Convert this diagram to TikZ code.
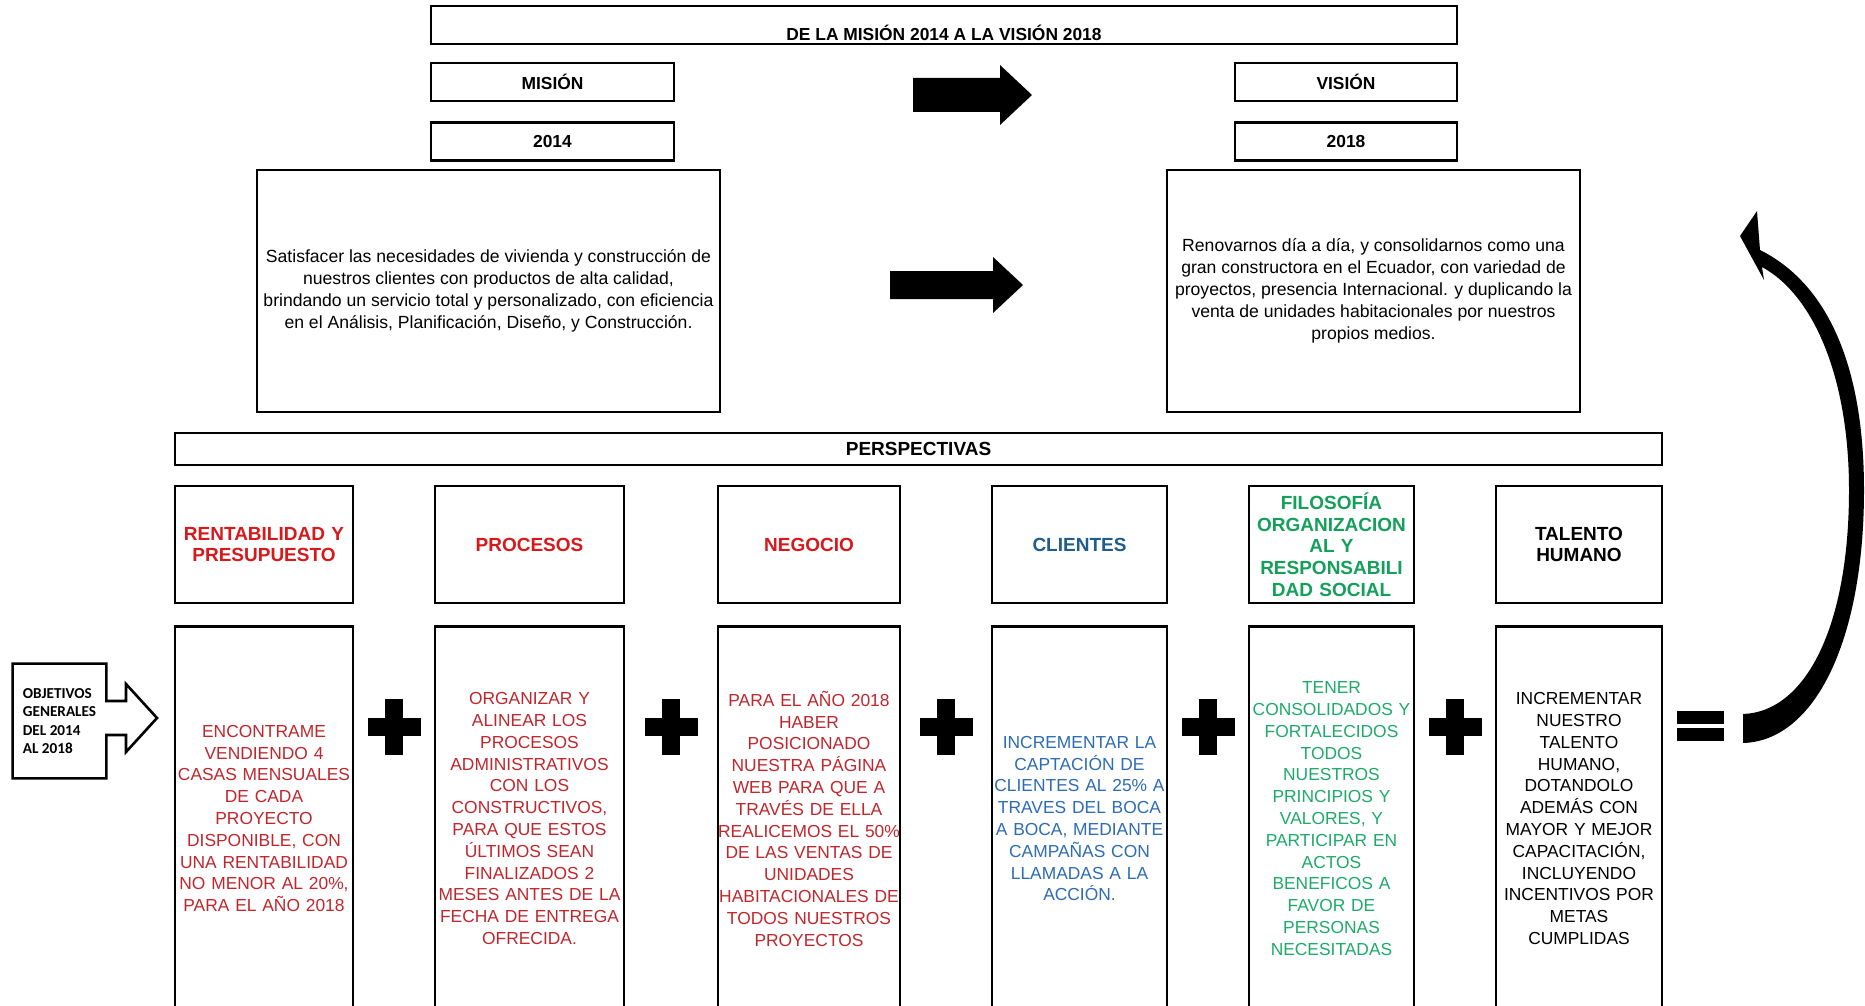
\documentclass[tikz,border=0pt]{standalone}
\usepackage{fontspec}
\setmainfont{Liberation Sans}
\newfontfamily\objfont{Carlito}
\usetikzlibrary{positioning,calc}
\definecolor{rojoCab}{HTML}{D7191C}
\definecolor{rojoTxt}{HTML}{C0272D}
\definecolor{azulCab}{HTML}{1F5E8C}
\definecolor{azulTxt}{HTML}{2E6DB4}
\definecolor{verdeCab}{HTML}{14A05A}
\definecolor{verdeTxt}{HTML}{1FAA6B}
\tikzset{
  caja/.style={draw=black, line width=1.3pt, inner sep=0pt, align=center},
  cajaT/.style={caja, minimum height=19pt, font=\fontsize{8.7}{10}\selectfont\bfseries},
  texto/.style={caja, minimum height=121pt, font=\fontsize{8.8}{11}\selectfont},
  cab/.style={caja, text width=#1, minimum height=58.5pt, font=\fontsize{9.5}{10.9}\selectfont\bfseries},
  cuerpo/.style={caja, text width=#1, minimum height=192pt, font=\fontsize{8.7}{10.9}\selectfont},
}
\begin{document}
\begin{tikzpicture}[x=0.5pt, y=-0.5pt, node distance=10.5pt]
  \useasboundingbox[fill=white] (0,0) rectangle (1865,1006);
  \node[cajaT, minimum width=513pt, text height=17.2pt, text depth=1.8pt] (t) at (944,25) {DE LA MISIÓN 2014 A LA VISIÓN 2018};
  \node[cajaT, minimum width=121.5pt] (m) at (552.5,82) {MISIÓN};
  \node[cajaT, minimum width=121.5pt, below=9.5pt of m] (a1) {2014};
  \node[cajaT, minimum width=111pt] (v) at (1346,82) {VISIÓN};
  \node[cajaT, minimum width=111pt, below=9.5pt of v] (a2) {2018};
  \node[texto, minimum width=231.5pt] (tm) at (488.5,291) {Satisfacer las necesidades de vivienda y construcción de\\nuestros clientes con productos de alta calidad,\\brindando un servicio total y personalizado, con eficiencia\\en el Análisis, Planificación, Diseño, y Construcción.};
  \node[texto, minimum width=206.5pt] (tv) at (1373.5,291) {Renovarnos día a día, y consolidarnos como una\\gran constructora en el Ecuador, con variedad de\\proyectos, presencia Internacional. y duplicando la\\venta de unidades habitacionales por nuestros\\propios medios.};
  \fill (913,78) -- (1000,78) -- (1000,65) -- (1032,95) -- (1000,125) -- (1000,112) -- (913,112) -- cycle;
  \fill (890,271) -- (993,271) -- (993,257) -- (1023,285) -- (993,313) -- (993,299) -- (890,299) -- cycle;
  \node[cajaT, minimum width=743.5pt, minimum height=16pt, font=\fontsize{9.5}{10}\selectfont\bfseries] (p) at (918.5,449) {PERSPECTIVAS};
  \node[cab=89pt, text=rojoCab] (h1) at (264,544.5) {RENTABILIDAD Y\\PRESUPUESTO};
  \node[cab=94.5pt, text=rojoCab] (h2) at (529.5,544.5) {PROCESOS};
  \node[cab=91pt, text=rojoCab] (h3) at (809,544.5) {NEGOCIO};
  \node[cab=87.5pt, text=azulCab] (h4) at (1079.5,544.5) {CLIENTES};
  \node[cab=82.5pt, text=verdeCab] (h5) at (1331.5,544.5) {FILOSOFÍA\\ORGANIZACION\\AL Y\\RESPONSABILI\\DAD SOCIAL};
  \node[cab=83pt] (h6) at (1579,544.5) {TALENTO\\HUMANO};
  \node[cuerpo=89pt, text=rojoTxt, below=of h1] (b1) {ENCONTRAME\\VENDIENDO 4\\CASAS MENSUALES\\DE CADA\\PROYECTO\\DISPONIBLE, CON\\UNA RENTABILIDAD\\NO MENOR AL 20\%,\\PARA EL AÑO 2018};
  \node[cuerpo=94.5pt, text=rojoTxt, below=of h2] (b2) {ORGANIZAR Y\\ALINEAR LOS\\PROCESOS\\ADMINISTRATIVOS\\CON LOS\\CONSTRUCTIVOS,\\PARA QUE ESTOS\\ÚLTIMOS SEAN\\FINALIZADOS 2\\MESES ANTES DE LA\\FECHA DE ENTREGA\\OFRECIDA.};
  \node[cuerpo=91pt, text=rojoTxt, below=of h3] (b3) {PARA EL AÑO 2018\\HABER\\POSICIONADO\\NUESTRA PÁGINA\\WEB PARA QUE A\\TRAVÉS DE ELLA\\REALICEMOS EL 50\%\\DE LAS VENTAS DE\\UNIDADES\\HABITACIONALES DE\\TODOS NUESTROS\\PROYECTOS};
  \node[cuerpo=87.5pt, text=azulTxt, below=of h4] (b4) {INCREMENTAR LA\\CAPTACIÓN DE\\CLIENTES AL 25\% A\\TRAVES DEL BOCA\\A BOCA, MEDIANTE\\CAMPAÑAS CON\\LLAMADAS A LA\\ACCIÓN.};
  \node[cuerpo=82.5pt, text=verdeTxt, below=of h5] (b5) {TENER\\CONSOLIDADOS Y\\FORTALECIDOS\\TODOS\\NUESTROS\\PRINCIPIOS Y\\VALORES, Y\\PARTICIPAR EN\\ACTOS\\BENEFICOS A\\FAVOR DE\\PERSONAS\\NECESITADAS};
  \node[cuerpo=83pt, below=of h6] (b6) {INCREMENTAR\\NUESTRO\\TALENTO\\HUMANO,\\DOTANDOLO\\ADEMÁS CON\\MAYOR Y MEJOR\\CAPACITACIÓN,\\INCLUYENDO\\INCENTIVOS POR\\METAS\\CUMPLIDAS};
  \node[align=left, inner sep=0pt, minimum width=46.5pt, minimum height=57pt, font=\objfont\bfseries\fontsize{7.6}{9.2}\selectfont] (obj) at (59.5,721) {OBJETIVOS\\GENERALES\\DEL 2014\\AL 2018};
  \draw[line width=1.3pt] (obj.north west) -- (obj.north east) -- (obj.east |- 0,701) -- (126,701) -- (126,684) -- (157,718) -- (126,752) -- (126,735) -- (obj.east |- 0,735) -- (obj.south east) -- (obj.south west) -- cycle;
  \foreach \a/\b in {b1/b2,b2/b3,b3/b4,b4/b5,b5/b6}{
    \path (\a.east) -- (\b.west) coordinate[midway] (c);
    \fill (c |- 0,727) +(-26.5,-9) rectangle +(26.5,9);
    \fill (c |- 0,727) +(-9,-28) rectangle +(9,28);
  }
  \fill (1677,711) rectangle (1724,724);
  \fill (1677,728) rectangle (1724,741);
  \fill (1743,743) .. controls (1815,741) and (1864,640) .. (1864,490) .. controls (1864,370) and (1830,285) .. (1760,250) -- (1757,211) -- (1740,236) -- (1764,280) -- (1762,267) .. controls (1815,296) and (1849,380) .. (1849,490) .. controls (1849,628) and (1805,712) .. (1743,714) -- cycle;
\end{tikzpicture}
\end{document}
